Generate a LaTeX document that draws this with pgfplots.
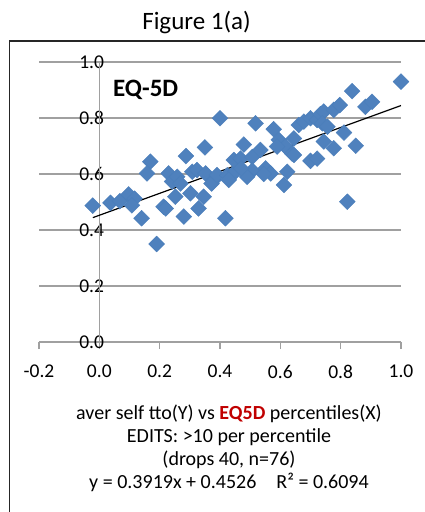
\documentclass[border=0pt]{standalone}
\usepackage{fontspec}
\setmainfont{Carlito}
\usepackage{pgfplots}
\pgfplotsset{compat=1.18}
\definecolor{ptblue}{RGB}{79,129,189}
\definecolor{ptedge}{RGB}{74,126,187}
\definecolor{gridgray}{RGB}{160,160,160}
\definecolor{eqred}{RGB}{192,0,0}
\begin{document}
\begin{tikzpicture}[x=1bp,y=1bp]
\useasboundingbox (0,0) rectangle (424,-512);
\draw[line width=1.6bp, black!85] (9.5,-600) -- (9.5,-41) -- (600,-41);
\node[anchor=base, inner sep=0pt, font=\fontsize{25bp}{28bp}\selectfont] at (196.5,-30) {Figure 1(a)};
\begin{axis}[
  at={(39bp,-342bp)}, anchor=south west,
  scale only axis, width=362bp, height=280bp,
  xmin=-0.2, xmax=1.0, ymin=0, ymax=1.0,
  clip=false,
  axis line style={draw=none},
  xtick={-0.2,0,0.2,0.4,0.6,0.8,1.0},
  ytick={0,0.2,0.4,0.6,0.8,1.0},
  xtick pos=bottom, tick align=outside,
  major tick length=7bp,
  xtick style={gridgray, line width=1.2bp},
  ytick style={draw=none},
  ymajorgrids,
  grid style={gridgray, line width=1.2bp},
  /pgf/number format/assume math mode=true,
  /pgf/number format/fixed,
  /pgf/number format/fixed zerofill,
  /pgf/number format/precision=1,
  ticklabel style={font=\fontsize{19.5bp}{22bp}\selectfont},
  yticklabel style={anchor=east, xshift=75.5bp},
  xticklabel style={yshift=-12.5bp},
]
\draw[gridgray, line width=1.2bp] (axis cs:0,0) -- (axis cs:0,1);
\addplot[only marks, mark=square*, mark size=5.6bp,
  mark options={rotate=45, fill=ptblue, draw=ptedge, line width=0.4bp}]
coordinates {
(-0.022,0.487) (0.037,0.497) (0.068,0.503) (0.097,0.527) (0.117,0.512)
(0.108,0.488) (0.140,0.442) (0.169,0.644) (0.158,0.602) (0.190,0.350)
(0.213,0.483) (0.220,0.477) (0.230,0.602) (0.241,0.573) (0.258,0.590)
(0.252,0.519) (0.280,0.448) (0.287,0.664) (0.269,0.566) (0.302,0.531)
(0.308,0.608) (0.329,0.477) (0.346,0.519) (0.350,0.695) (0.324,0.614)
(0.352,0.602) (0.379,0.579) (0.400,0.799) (0.372,0.566) (0.390,0.596)
(0.418,0.442) (0.424,0.595) (0.451,0.608) (0.429,0.579) (0.446,0.650)
(0.468,0.655) (0.479,0.705) (0.507,0.661) (0.534,0.686) (0.518,0.781)
(0.578,0.760) (0.595,0.722) (0.617,0.698) (0.589,0.698) (0.507,0.612)
(0.551,0.620) (0.568,0.602) (0.612,0.561) (0.623,0.608) (0.639,0.673)
(0.645,0.727) (0.661,0.775) (0.678,0.787) (0.700,0.799) (0.722,0.793)
(0.733,0.814) (0.744,0.823) (0.777,0.829) (0.797,0.846) (0.838,0.896)
(0.882,0.840) (0.904,0.858) (1.000,0.930) (0.739,0.781) (0.756,0.769)
(0.811,0.748) (0.744,0.716) (0.777,0.692) (0.850,0.701) (0.700,0.647)
(0.722,0.655) (0.822,0.501) (0.645,0.668) (0.490,0.590) (0.470,0.620)
(0.545,0.600)
};
\addplot[black, line width=1.2bp, no marks] coordinates {(-0.0214,0.4442) (1.0,0.8445)};
\end{axis}
\node[anchor=base west, inner sep=0pt, font=\fontsize{25bp}{28bp}\selectfont\bfseries] at (113,-97) {EQ-5D};
\node[anchor=base, inner sep=0pt, align=center, font=\fontsize{20bp}{23bp}\selectfont] at (229,-488)
{aver self tto(Y) vs \textcolor{eqred}{\textbf{EQ5D}} percentiles(X)\\
EDITS: >10 per percentile\\
(drops 40, n=76)\\
y = 0.3919x + 0.4526\quad R² = 0.6094};
\end{tikzpicture}
\end{document}
